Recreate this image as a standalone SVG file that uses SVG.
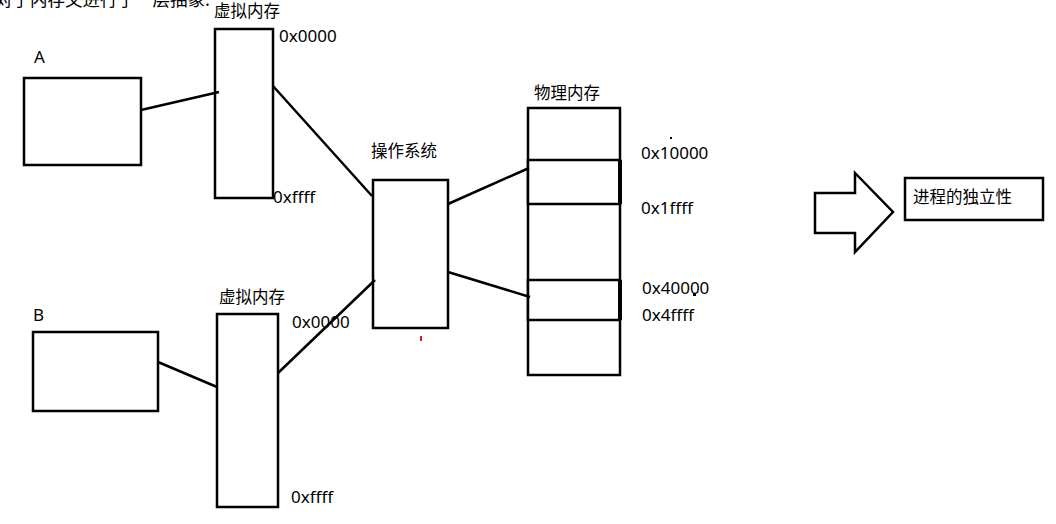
<svg xmlns="http://www.w3.org/2000/svg" width="1056" height="524" viewBox="0 0 1056 524">
<style>
.t{font-family:"Noto Sans CJK SC","Noto Sans",sans-serif;font-size:16.5px;fill:#000}
.n{font-family:"Noto Sans","Noto Sans CJK SC",sans-serif;font-size:17px;fill:#000}
.box{fill:#fff;stroke:#000;stroke-width:2.5}
.ln{stroke:#000;stroke-width:2.5;fill:none}
</style>
<rect width="1056" height="524" fill="#fff"/>
<text class="t" x="-5" y="6" style="font-size:17.5px">对了内存又进行了一层抽象.</text>
<g id="procA">
<text class="n" x="34" y="63">A</text>
<rect class="box" x="24" y="78" width="117" height="87"/>
</g>
<g id="vmA">
<text class="t" x="214" y="17">虚拟内存</text>
<rect class="box" x="215" y="29" width="58" height="169"/>
<text class="n" x="279" y="42">0x0000</text>
<text class="n" x="273" y="203">0xffff</text>
</g>
<g id="procB">
<text class="n" x="33" y="321">B</text>
<rect class="box" x="33" y="332" width="125" height="79"/>
</g>
<g id="vmB">
<text class="t" x="219" y="303">虚拟内存</text>
<rect class="box" x="217" y="314" width="61" height="193"/>
<text class="n" x="292" y="328">0x0000</text>
<text class="n" x="291" y="503">0xffff</text>
</g>
<g id="os">
<text class="t" x="371" y="157">操作系统</text>
<rect class="box" x="373" y="180" width="75" height="148"/>
</g>
<g id="phys">
<text class="t" x="534" y="99">物理内存</text>
<rect class="box" x="528" y="108" width="92" height="267"/>
<rect class="box" x="528" y="160" width="92" height="44"/>
<rect class="box" x="528" y="280" width="92" height="40"/>
<rect x="618" y="160" width="4" height="44" fill="#000"/>
<rect x="618" y="280" width="4" height="40" fill="#000"/>
<text class="n" x="641" y="159">0x10000</text>
<rect x="670" y="137" width="2" height="2" fill="#000"/>
<text class="n" x="641" y="214">0x1ffff</text>
<text class="n" x="642" y="294">0x40000</text>
<rect x="693" y="293" width="3" height="3" fill="#000"/>
<text class="n" x="642" y="321">0x4ffff</text>
</g>
<g id="arrow">
<polygon class="box" points="815,193 855,193 855,173 893,212 855,252 855,233 815,233"/>
</g>
<g id="result">
<rect class="box" x="905" y="178" width="138" height="42"/>
<text class="t" x="913" y="203">进程的独立性</text>
</g>
<g id="connectors">
<line class="ln" x1="141" y1="110" x2="219" y2="92"/>
<line class="ln" x1="273" y1="86" x2="372" y2="196"/>
<line class="ln" x1="158" y1="362" x2="217" y2="387"/>
<line class="ln" x1="278" y1="373" x2="375" y2="280"/>
<line class="ln" x1="448" y1="204" x2="529" y2="168"/>
<line class="ln" x1="448" y1="272" x2="530" y2="297"/>
</g>
<rect x="420" y="336" width="2" height="5" fill="#d02020"/>
</svg>
